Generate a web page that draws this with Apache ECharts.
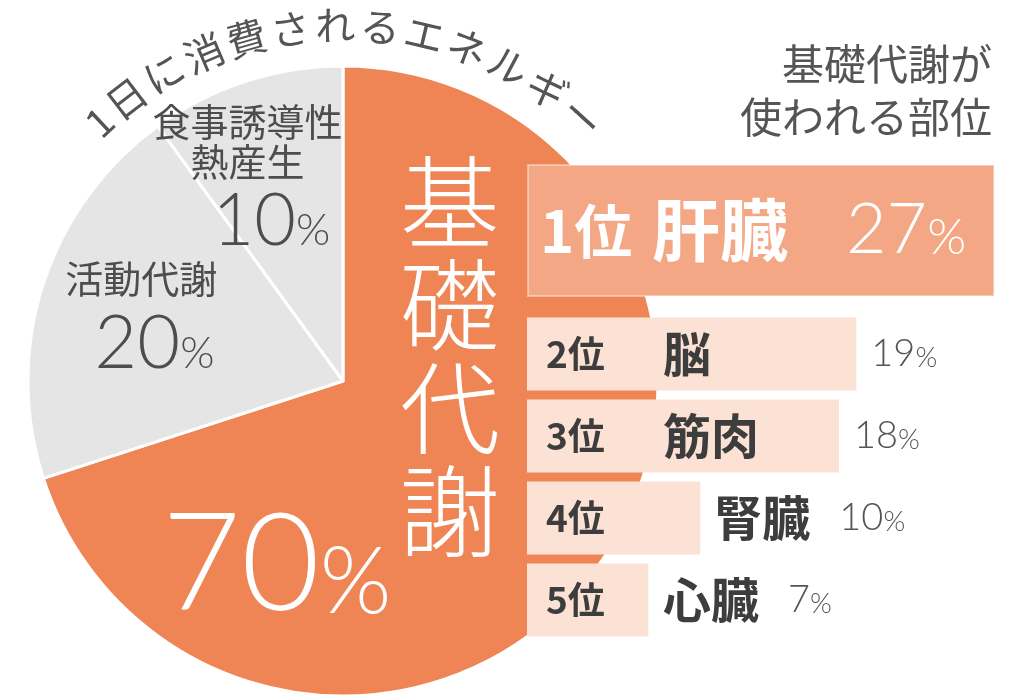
<!DOCTYPE html>
<html>
<head>
<meta charset="utf-8">
<script src="https://cdn.jsdelivr.net/npm/echarts@6/dist/echarts.min.js"></script>
<style>
  html, body { margin: 0; padding: 0; background: #fff; }
  #main { width: 1024px; height: 698px; }
</style>
</head>
<body>
<div id="main"></div>
<script>
// 1日に消費されるエネルギー
const pieNames = ['基礎代謝', '活動代謝', '食事誘導性熱産生'];
const pieValues = [70, 20, 10];

// 基礎代謝が使われる部位
const ranks = ['1位', '2位', '3位', '4位', '5位'];
const organs = ['肝臓', '脳', '筋肉', '腎臓', '心臓'];
const shares = [27, 19, 18, 10, 7];

const arcTitle = '1日に消費されるエネルギー';
const sideTitle = '基礎代謝が\n使われる部位';

const JP = '"Noto Sans CJK JP", sans-serif';
const NUM = 'Lato, "Noto Sans CJK JP", sans-serif';
const ORANGE = '#ef8455';
const GRAY = '#e5e5e5';
const TXT = '#4d4d4d';

const chart = echarts.init(document.getElementById('main'));

// layout
const cx = 343, cy = 381, R = 315;
const barLeft = 527, barRight = 29, barMax = 27;
const pxPer = (1024 - barLeft - barRight) / barMax;

// title bent along the top of the pie
function arcText(str, r, fontSize, gap, midDeg) {
  const chars = [...str];
  const adv = chars.map(ch => (/[0-9]/.test(ch) ? 0.55 : 1) * fontSize + gap);
  const total = adv.reduce((a, b) => a + b, 0);
  let s = -total / 2;
  return chars.map((ch, i) => {
    const mid = s + adv[i] / 2;
    s += adv[i];
    const a = (midDeg * Math.PI / 180) + mid / r;
    return {
      type: 'text',
      x: cx + r * Math.sin(a),
      y: cy - r * Math.cos(a),
      rotation: -a,
      silent: true,
      style: {
        text: ch, fill: '#555', fontSize: fontSize, fontFamily: JP, fontWeight: 400,
        align: 'center', verticalAlign: 'middle'
      }
    };
  });
}

// value labels inside the pie
const pieValueLabels = [
  { offset: [-196, 91], color: '#fff', big: 136, small: 92 },
  { offset: [-36, 13], color: TXT, big: 74, small: 44 },
  { offset: [-22, -7], color: TXT, big: 72, small: 44 }
];
// name labels inside the pie
const pieNameLabels = [
  { offset: [-23, -119], color: '#fff', fontSize: 100, width: 104, lineHeight: 103, fontWeight: 300 },
  { offset: [-49, -53], color: TXT, fontSize: 38, width: 200, lineHeight: 40, fontWeight: 400 },
  { offset: [-46, -87], color: TXT, fontSize: 38, width: 200, lineHeight: 40, fontWeight: 400 }
];

// labels for ranks 2-5: rank, organ, share laid out along the bar
function smallBarLabel(i) {
  const v = shares[i];
  const end = v * pxPer;
  const rankX = 19;
  let nameX = 136;
  const nameW = [...organs[i]].length * 47;
  if (end > nameX - 5 && end < nameX + nameW + 5) nameX = end + 14;
  const valX = Math.max(end + 15, nameX + nameW + 31);
  return {
    show: true,
    position: 'insideLeft',
    distance: rankX,
    formatter: `{r|${ranks[i]}}{n|${organs[i]}}{v|${v}}{p|%}`,
    rich: {
      r: { width: nameX - rankX, fontSize: 37, fontWeight: 'bold', fontFamily: JP, color: '#3d3d3d' },
      n: { width: valX - nameX, fontSize: 48, fontWeight: 'bold', fontFamily: JP, color: '#3d3d3d' },
      v: { fontSize: 38, fontWeight: 300, fontFamily: NUM, color: '#555' },
      p: { fontSize: 28, fontWeight: 300, fontFamily: NUM, color: '#555', padding: [8, 0, 0, 0] }
    }
  };
}

const option = {
  animation: false,
  backgroundColor: '#fff',
  grid: [
    { left: barLeft, right: barRight, top: 164, height: 133 },
    { left: barLeft, right: barRight, top: 313, height: 328 }
  ],
  xAxis: [
    { gridIndex: 0, type: 'value', min: 0, max: barMax, show: false },
    { gridIndex: 1, type: 'value', min: 0, max: barMax, show: false }
  ],
  yAxis: [
    { gridIndex: 0, type: 'category', data: organs.slice(0, 1), show: false },
    { gridIndex: 1, type: 'category', data: organs.slice(1), inverse: true, show: false }
  ],
  graphic: arcText(arcTitle, 356, 40, 5, 0.2).concat([{
    type: 'text',
    x: 992,
    y: 38,
    silent: true,
    style: {
      text: sideTitle, align: 'right', verticalAlign: 'top',
      fontSize: 42, lineHeight: 53, fontFamily: JP, fill: '#555'
    }
  }]),
  series: [
    {
      type: 'pie',
      center: [cx, cy],
      radius: R,
      startAngle: 90,
      clockwise: true,
      silent: true,
      avoidLabelOverlap: false,
      z: 1,
      itemStyle: { borderColor: '#fff', borderWidth: 3 },
      labelLine: { show: false },
      data: pieValues.map((v, i) => ({
        name: pieNames[i],
        value: v,
        itemStyle: { color: i === 0 ? ORANGE : GRAY },
        label: {
          show: true,
          position: 'inside',
          offset: pieValueLabels[i].offset,
          formatter: '{v|{c}}{p|%}',
          rich: {
            v: { fontSize: pieValueLabels[i].big, fontWeight: 300, fontFamily: NUM, color: pieValueLabels[i].color },
            p: { fontSize: pieValueLabels[i].small, fontWeight: 300, fontFamily: NUM, color: pieValueLabels[i].color,
                 padding: [pieValueLabels[i].big * 0.25, 0, 0, 0] }
          }
        }
      }))
    },
    {
      type: 'pie',
      center: [cx, cy],
      radius: R,
      startAngle: 90,
      clockwise: true,
      silent: true,
      avoidLabelOverlap: false,
      z: 1,
      itemStyle: { color: 'rgba(0,0,0,0)', borderWidth: 0 },
      labelLine: { show: false },
      data: pieValues.map((v, i) => ({
        name: pieNames[i],
        value: v,
        label: {
          show: true,
          position: 'inside',
          formatter: '{b}',
          offset: pieNameLabels[i].offset,
          color: pieNameLabels[i].color,
          fontSize: pieNameLabels[i].fontSize,
          fontWeight: pieNameLabels[i].fontWeight,
          fontFamily: JP,
          width: pieNameLabels[i].width,
          lineHeight: pieNameLabels[i].lineHeight,
          overflow: 'break'
        }
      }))
    },
    {
      type: 'bar',
      xAxisIndex: 0,
      yAxisIndex: 0,
      z: 5,
      barWidth: '100%',
      itemStyle: { color: '#f3a785', borderColor: 'rgba(255,255,255,0.4)', borderWidth: 2 },
      label: {
        show: true,
        position: 'insideLeft',
        distance: 13,
        formatter: `{r|${ranks[0]}}{n|${organs[0]}}{v|${shares[0]}}{p|%}`,
        rich: {
          r: { width: 112, fontSize: 58, fontWeight: 'bold', fontFamily: JP, color: '#fff' },
          n: { width: 194, fontSize: 68, fontWeight: 'bold', fontFamily: JP, color: '#fff' },
          v: { fontSize: 70, fontWeight: 300, fontFamily: NUM, color: '#fff' },
          p: { fontSize: 50, fontWeight: 300, fontFamily: NUM, color: '#fff', padding: [14, 0, 0, 0] }
        }
      },
      data: shares.slice(0, 1)
    },
    {
      type: 'bar',
      xAxisIndex: 1,
      yAxisIndex: 1,
      z: 5,
      barWidth: 73,
      itemStyle: { color: '#fce2d4' },
      data: shares.slice(1).map((v, j) => ({ value: v, label: smallBarLabel(j + 1) }))
    }
  ]
};

chart.setOption(option);
</script>
</body>
</html>
